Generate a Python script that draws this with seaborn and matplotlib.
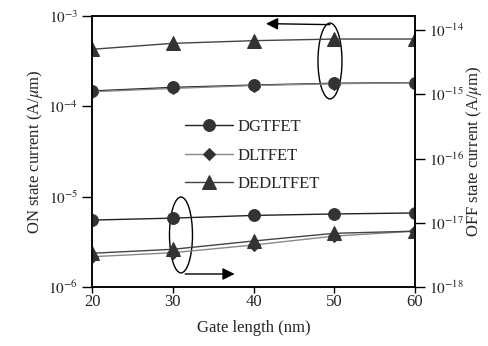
import matplotlib
matplotlib.use("Agg")
import matplotlib.pyplot as plt
import seaborn as sns
import numpy as np
from matplotlib.patches import Ellipse

gate_length = [20, 30, 40, 50, 60]
series = ["DGTFET", "DLTFET", "DEDLTFET"]
on_dgtfet = [1.48e-4, 1.62e-4, 1.72e-4, 1.80e-4, 1.83e-4]
on_dltfet = [1.45e-4, 1.58e-4, 1.70e-4, 1.78e-4, 1.82e-4]
on_dedltfet = [4.28e-4, 4.98e-4, 5.33e-4, 5.56e-4, 5.56e-4]
off_dgtfet = [1.10e-17, 1.18e-17, 1.30e-17, 1.37e-17, 1.42e-17]
off_dltfet = [2.96e-18, 3.42e-18, 4.50e-18, 6.20e-18, 7.40e-18]
off_dedltfet = [3.35e-18, 3.86e-18, 5.20e-18, 6.85e-18, 7.40e-18]
left_ticks = [1e-6, 1e-5, 1e-4, 1e-3]
right_ticks = [1e-18, 1e-17, 1e-16, 1e-15, 1e-14]

sns.set_style("ticks")
plt.rcParams["font.family"] = ["Liberation Serif", "DejaVu Serif"]
plt.rcParams["mathtext.fontset"] = "stix"

fig = plt.figure(figsize=(4.88, 3.46), dpi=100)
ax = fig.add_axes([92/488, 1-287/346, 323/488, 271/346])
ax2 = ax.twinx()

styles = {
    "DGTFET": dict(marker="o", line="#222222"),
    "DLTFET": dict(marker="D", line="#888888"),
    "DEDLTFET": dict(marker="^", line="#444444"),
}
on = {"DGTFET": on_dgtfet, "DLTFET": on_dltfet, "DEDLTFET": on_dedltfet}
off = {"DGTFET": off_dgtfet, "DLTFET": off_dltfet, "DEDLTFET": off_dedltfet}
msize = {"o": 8.5, "D": 6.5, "^": 9.5}

for name in series:
    st = styles[name]
    for a, d in ((ax, on), (ax2, off)):
        sns.lineplot(x=gate_length, y=d[name], ax=a, color=st["line"], marker=st["marker"],
                     markersize=msize[st["marker"]], markerfacecolor="#333333",
                     markeredgecolor="#333333", linewidth=1.0, label=name if a is ax else None,
                     legend=False)

for a in (ax, ax2):
    a.set_yscale("log")
    a.minorticks_off()
ax.set_ylim(1e-6, 1e-3)
ax.set_yticks(left_ticks)
ax.set_yticklabels([r"$10^{%d}$" % int(np.log10(t)) for t in left_ticks])
ax2.set_ylim(1e-18, 10 ** (-18 + 271 / 64.25))
ax2.set_yticks(right_ticks)
ax2.set_yticklabels([r"$10^{%d}$" % int(np.log10(t)) for t in right_ticks])
ax2.minorticks_off()
ax.set_xlim(20, 60)
ax.set_xticks(gate_length)

for a in (ax, ax2):
    a.tick_params(axis="y", direction="out", length=7, width=1, labelsize=11, pad=3, color="black")
    for s in a.spines.values():
        s.set_linewidth(1.1)
        s.set_color("black")
ax.tick_params(axis="x", direction="out", length=4, width=1, labelsize=12, pad=1, color="black")

ax.set_xlabel("Gate length (nm)", fontsize=12, labelpad=7)
ax.set_ylabel(r"ON state current (A/$\mu$m)", fontsize=12)
ax2.set_ylabel(r"OFF state current (A/$\mu$m)", fontsize=12)
ax.yaxis.set_label_coords(-0.145, 0.5)
ax2.yaxis.set_label_coords(1.153, 0.5)

handles, labels = ax.get_legend_handles_labels()
ax.legend(handles, labels, loc="upper left", bbox_to_anchor=(0.242, 0.675), frameon=False,
          fontsize=12, handlelength=2.9, labelspacing=0.75, handletextpad=0.25)

# annotations
ax.add_patch(Ellipse((0.2755, 0.192), 0.0712, 0.28, transform=ax.transAxes,
                     fill=False, edgecolor="black", linewidth=1.0))
ax.add_patch(Ellipse((0.7368, 0.834), 0.0743, 0.28, transform=ax.transAxes,
                     fill=False, edgecolor="black", linewidth=1.0))
ax.annotate("", xy=(0.45, 0.048), xytext=(0.28, 0.048), xycoords="axes fraction",
            arrowprops=dict(arrowstyle="-|>", color="black", lw=1.0, mutation_scale=18))
ax.annotate("", xy=(0.53, 0.972), xytext=(0.745, 0.968), xycoords="axes fraction",
            arrowprops=dict(arrowstyle="-|>", color="black", lw=1.0, mutation_scale=18))

fig.savefig("out.png", dpi=100)
